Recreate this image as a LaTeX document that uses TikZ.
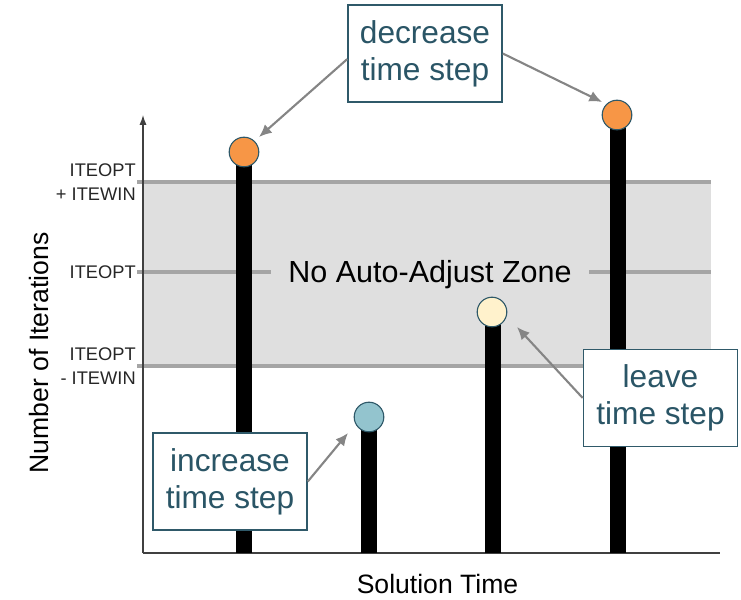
\documentclass[tikz,border=0pt]{standalone}
\usepackage{fontspec}
\setmainfont{Liberation Sans}
\usetikzlibrary{arrows.meta}

\definecolor{bandgray}{HTML}{DFDFDF}
\definecolor{linegray}{HTML}{A5A5A5}
\definecolor{arrowgray}{HTML}{858585}
\definecolor{tealtext}{HTML}{2A5566}
\definecolor{tealline}{HTML}{2F5969}
\definecolor{dotorange}{HTML}{F79646}
\definecolor{dotblue}{HTML}{93C4CE}
\definecolor{dotcream}{HTML}{FFF2CC}

\begin{document}
\begin{tikzpicture}[x=0.025cm, y=-0.025cm,
    notebox/.style={draw=tealline, line width=1.1pt, fill=white, text=tealtext, align=center,
        minimum width=3.85cm, minimum height=2.42cm, inner sep=0pt,
        font=\fontsize{22.5}{26.5}\selectfont},
    ball/.style={circle, draw=tealline, line width=0.8pt, minimum size=0.74cm, inner sep=0pt},
    stem/.style={line width=10.8pt},
    bandline/.style={draw=linegray, line width=2.2pt},
    pointer/.style={draw=arrowgray, line width=1.5pt, -{Latex[length=9pt,width=8pt]}},
    ticklabel/.style={anchor=east, align=right, inner sep=0pt, text=black!85,
        font=\fontsize{13}{17}\selectfont}]
    \useasboundingbox (0,0) rectangle (741,599);

    % No auto-adjust band
    \fill[bandgray] (143,182) rectangle (711,366);
    \draw[bandline] (137,182) -- (711,182);
    \draw[bandline] (137,272) -- (711,272);
    \draw[bandline] (137,366) -- (711,366);
    \node[fill=bandgray, inner xsep=12.5pt, inner ysep=2pt, anchor=base,
        font=\fontsize{21.7}{26}\selectfont] (zone) at (430,282) {No Auto-Adjust Zone};

    % Axes
    \draw[black!75, line width=0.8pt] (143,553) -- (720,553);
    \draw[black!75, line width=0.8pt, -{Latex[length=7pt,width=5pt]}] (143,553) -- (143,115);

    % Iteration counts
    \draw[stem] (244,553) -- (244,152);
    \draw[stem] (369,553) -- (369,417);
    \draw[stem] (493,553) -- (493,312);
    \draw[stem] (618,553) -- (618,115);
    \node[ball, fill=dotorange] (c1) at (244,152) {};
    \node[ball, fill=dotblue] (c2) at (369,417) {};
    \node[ball, fill=dotcream] (c3) at (492,312) {};
    \node[ball, fill=dotorange] (c4) at (617,115) {};

    % Call-outs
    \node[notebox] (dec) at (425,53.5) {decrease\\time step};
    \node[notebox] (inc) at (230,481.5) {increase\\time step};
    \node[notebox] (lv) at (660.5,398) {leave\\time step};

    \coordinate (t1) at (259,137);
    \coordinate (t2) at (602,102);
    \coordinate (t3) at (348,433);
    \coordinate (t4) at (517,327);
    \draw[pointer] ([yshift=-4pt]dec.west) -- (t1);
    \draw[pointer] (dec.east) -- (t2);
    \draw[pointer] (inc.east) -- (t3);
    \draw[pointer] (lv.west) -- (t4);

    % Axis labels
    \node[rotate=90, font=\fontsize{18.9}{22}\selectfont] (ylab) at (39,353) {Number of Iterations};
    \node[anchor=base, font=\fontsize{18.9}{22}\selectfont] (xlab) at (437.5,593) {Solution Time};
    \node[ticklabel] (hi) at (136,182) {ITEOPT\\+ ITEWIN};
    \node[ticklabel] (mid) at (136,272) {ITEOPT};
    \node[ticklabel] (lo) at (136,366) {ITEOPT\\- ITEWIN};
\end{tikzpicture}
\end{document}
